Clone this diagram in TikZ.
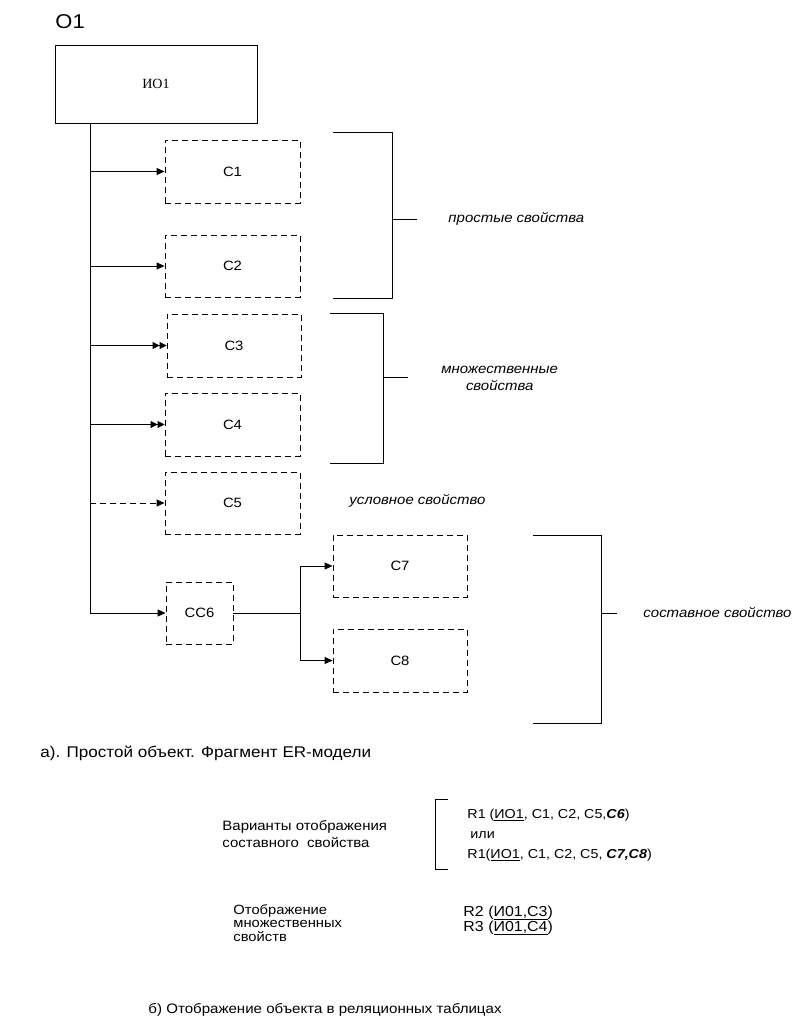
\documentclass[tikz,border=0pt]{standalone}
\usepackage{fontspec}
\setmainfont{Liberation Sans}[FakeStretch=1.1]
\newfontfamily\serifio{Liberation Serif}
\usetikzlibrary{arrows.meta}
\begin{document}
\begin{tikzpicture}[x=1pt,y=-1pt,
  line width=0.9pt,
  box/.style={draw,dashed,dash pattern=on 6pt off 4pt,inner sep=0pt,font=\fontsize{13.5}{15}\selectfont},
  solidbox/.style={draw,inner sep=0pt},
  arr/.style={-{Triangle[length=8pt,width=7pt]}},
  darr/.style={-{Triangle[length=7pt,width=7pt]Triangle[length=7pt,width=7pt]}},
  lbl/.style={font=\fontsize{13.6}{15}\selectfont\itshape,inner sep=0pt},
  small/.style={font=\fontsize{13.6}{17.5}\selectfont,inner sep=0pt,align=left},
  rel/.style={font=\fontsize{13}{20}\selectfont,inner sep=0pt,align=left},
  captext/.style={font=\fontsize{15.5}{17}\selectfont,inner sep=0pt}
]
\fill[white] (0,0) rectangle (803,1032);
\useasboundingbox (0,0) rectangle (803,1032);

\node[captext,font=\fontsize{20}{22}\selectfont,anchor=west] (O1) at (55,22) {O1};
\node[solidbox,minimum width=202pt,minimum height=78pt,font=\serifio\fontsize{14}{16}\selectfont] (IO1) at (156,84) {ИО1};

\node[box,minimum width=135pt,minimum height=63pt] (C1) at (232.5,171.5) {C1};
\node[box,minimum width=135pt,minimum height=62pt] (C2) at (232.5,266) {C2};
\node[box,minimum width=134pt,minimum height=63pt] (C3) at (234,345.5) {C3};
\node[box,minimum width=135pt,minimum height=63pt] (C4) at (232.5,424.5) {C4};
\node[box,minimum width=135pt,minimum height=62pt] (C5) at (232.5,503) {C5};
\node[box,minimum width=67pt,minimum height=62pt] (CC6) at (199.5,613) {CC6};
\node[box,minimum width=134pt,minimum height=62pt] (C7) at (400,566) {C7};
\node[box,minimum width=134pt,minimum height=63pt] (C8) at (400,660.5) {C8};

\coordinate (tr) at (90,0);
\draw (IO1.south -| tr) -- (CC6.west -| tr);
\draw[arr] (C1.west -| tr) -- (C1.west);
\draw[arr] (C2.west -| tr) -- (C2.west);
\draw[darr] (C3.west -| tr) -- (C3.west);
\draw[darr] (C4.west -| tr) -- (C4.west);
\draw[arr,dashed,dash pattern=on 6pt off 4pt] (C5.west -| tr) -- (C5.west);
\draw[arr] (CC6.west -| tr) -- (CC6.west);

\coordinate (br) at (300,0);
\draw (CC6.east) -- (CC6.east -| br);
\draw (C7.west -| br) -- (C8.west -| br);
\draw[arr] (C7.west -| br) -- (C7.west);
\draw[arr] (C8.west -| br) -- (C8.west);

% brackets
\draw (333,132) -- (392,132) -- (392,298) -- (333,298);
\draw (392,219) coordinate (b1) -- (417,219);
\node[lbl,anchor=west] (L1) at (448,219) {простые свойства};

\draw (330,313) -- (383,313) -- (383,463) -- (330,463);
\draw (383,377) coordinate (b2) -- (408,377);
\node[lbl,align=center,anchor=west,font=\fontsize{13.6}{17}\selectfont\itshape] (L2) at (441,378) {множественные\\свойства};

\node[lbl,anchor=west] (L5) at (349,501) {условное свойство};

\draw (533,535) -- (601,535) -- (601,723) -- (533,723);
\draw (601,613) coordinate (b3) -- (617,613);
\node[lbl,anchor=west] (L3) at (643,613) {составное свойство};

\node[captext,anchor=west] (capA) at (40,753) {а). Простой объект. Фрагмент ER-модели};

% lower section
\node[small,anchor=west] (V) at (222,834) {Варианты отображения\\составного\ \ свойства};
\draw (448,799) -- (435,799) -- (435,869) -- (448,869);
\node[rel,anchor=west] (R1a) at (467,815) {R1 (\underline{ИО1}, C1, C2, C5,\textbf{\textit{C6}})};
\node[rel,anchor=west] (ili) at (470,835) {или};
\node[rel,anchor=west] (R1b) at (467,855) {R1(\underline{ИО1}, C1, C2, C5, \textbf{\textit{C7,C8}})};

\node[small,anchor=west,font=\fontsize{13.4}{13.5}\selectfont] (Ot) at (233,923) {Отображение\\множественных\\свойств};
\node[rel,anchor=west,font=\fontsize{14.5}{15}\selectfont] (R2) at (463,913) {R2 (\underline{И01,С3})};
\node[rel,anchor=west,font=\fontsize{14.5}{15}\selectfont] (R3) at (463,928) {R3 (\underline{И01,С4})};

\node[captext,anchor=west,font=\fontsize{13.7}{16}\selectfont] (capB) at (148,1010) {б) Отображение объекта в реляционных таблицах};
\end{tikzpicture}
\end{document}
